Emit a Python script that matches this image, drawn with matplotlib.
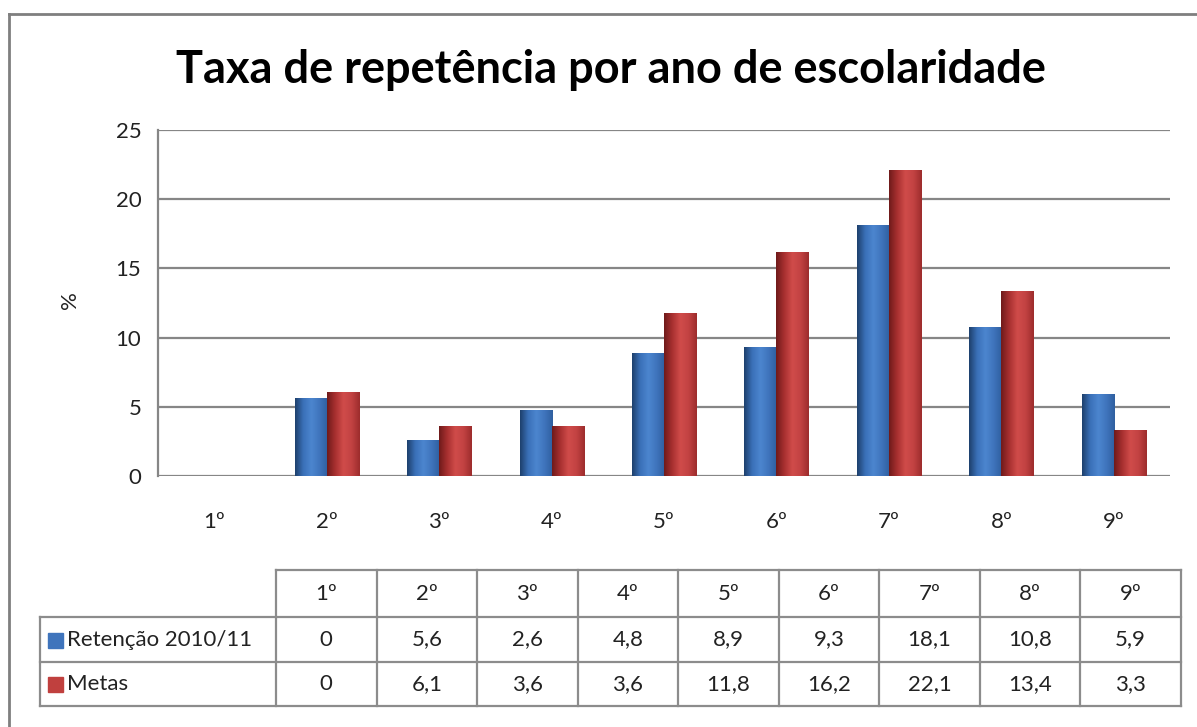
import numpy as np
import matplotlib
matplotlib.use("Agg")
import matplotlib.pyplot as plt
from matplotlib.colors import LinearSegmentedColormap
from matplotlib.patches import Rectangle

plt.rcParams['font.family'] = ['Lato', 'DejaVu Sans']

anos = ['1º', '2º', '3º', '4º', '5º', '6º', '7º', '8º', '9º']
retencao = [0, 5.6, 2.6, 4.8, 8.9, 9.3, 18.1, 10.8, 5.9]
metas = [0, 6.1, 3.6, 3.6, 11.8, 16.2, 22.1, 13.4, 3.3]
series_nomes = ['Retenção 2010/11', 'Metas']

azul = LinearSegmentedColormap.from_list('azul', ['#1d3f6b', '#3a70b8', '#4c86cf', '#3f74bc', '#2f5f9f'])
vermelho = LinearSegmentedColormap.from_list('verm', ['#6e1a1a', '#a83030', '#d04c4a', '#c24242', '#9c2c2c'])
cores = ['#3f74bc', '#c0403e']
txt = '#222222'
fs = 16

W, H = 1197, 727
fig = plt.figure(figsize=(W / 100, H / 100), dpi=100)

# moldura e tabela em coordenadas de pixel
bg = fig.add_axes([0, 0, 1, 1])
bg.set_xlim(0, W)
bg.set_ylim(H, 0)
bg.axis('off')
bg.plot([9, 9], [H + 5, 14], color='#7f7f7f', lw=2)
bg.plot([9, W + 5], [14, 14], color='#7f7f7f', lw=2)

ax = fig.add_axes([158 / W, 1 - 476 / H, (1170 - 158) / W, (476 - 130) / H])
x = np.arange(len(anos))
larg = 0.285
b1 = ax.bar(x - larg / 2, retencao, larg, color='none', zorder=3)
b2 = ax.bar(x + larg / 2, metas, larg, color='none', zorder=3)

grad = np.linspace(0, 1, 256).reshape(1, -1)
for barras, cmap in [(b1, azul), (b2, vermelho)]:
    for r in barras:
        if r.get_height() <= 0:
            continue
        x0, y0 = r.get_x(), r.get_y()
        w, h = r.get_width(), r.get_height()
        im = ax.imshow(grad, cmap=cmap, aspect='auto', extent=[x0, x0 + w, y0, y0 + h],
                       zorder=3, interpolation='bicubic')
        im.set_clip_path(r)

ax.set_xlim(-0.5, len(anos) - 0.5)
ax.set_ylim(0, 25)
ax.set_yticks([0, 5, 10, 15, 20, 25])
ax.set_xticks(x)
ax.set_xticklabels(anos)
ax.tick_params(length=0, labelsize=fs, colors=txt)
ax.tick_params(axis='x', pad=26)
ax.tick_params(axis='y', pad=12)
ax.grid(axis='y', color='#868686', lw=1.6, zorder=1)
for s in ['top', 'right', 'bottom']:
    ax.spines[s].set_visible(False)
ax.spines['left'].set_color('#868686')
ax.spines['left'].set_linewidth(1.6)
fig.text(70 / W, 1 - 300 / H, '%', rotation=90, ha='center', va='center', fontsize=fs, color=txt)

fig.text(0.51, 1 - 70 / H, 'Taxa de repetência por ano de escolaridade',
         ha='center', va='center', fontsize=32.5, fontweight='bold')

# tabela de dados
cor_linha = '#8c8c8c'
x_esq, x_tab, x_dir = 40, 276, 1181
y_lin = [570, 617, 662, 706]
col_w = (x_dir - x_tab) / len(anos)
bg.plot([x_tab, x_dir], [y_lin[0], y_lin[0]], color=cor_linha, lw=1.6)
for yy in y_lin[1:]:
    bg.plot([x_esq, x_dir], [yy, yy], color=cor_linha, lw=1.6)
bg.plot([x_esq, x_esq], [y_lin[1], y_lin[3]], color=cor_linha, lw=1.6)
for i in range(len(anos) + 1):
    xx = x_tab + i * col_w
    bg.plot([xx, xx], [y_lin[0], y_lin[3]], color=cor_linha, lw=1.6)

for i, a in enumerate(anos):
    cx = x_tab + (i + 0.5) * col_w
    bg.text(cx, (y_lin[0] + y_lin[1]) / 2, a, ha='center', va='center', fontsize=fs, color=txt)

for k, (nome, vals, cor) in enumerate(zip(series_nomes, [retencao, metas], cores)):
    cy = (y_lin[k + 1] + y_lin[k + 2]) / 2
    bg.add_patch(Rectangle((48, cy - 7), 15, 15, color=cor))
    bg.text(67, cy, nome, ha='left', va='center', fontsize=fs, color=txt)
    for i, v in enumerate(vals):
        cx = x_tab + (i + 0.5) * col_w
        bg.text(cx, cy, f'{v:g}'.replace('.', ','), ha='center', va='center',
                fontsize=fs, color=txt)

fig.savefig('out.png', dpi=100, facecolor='white')
